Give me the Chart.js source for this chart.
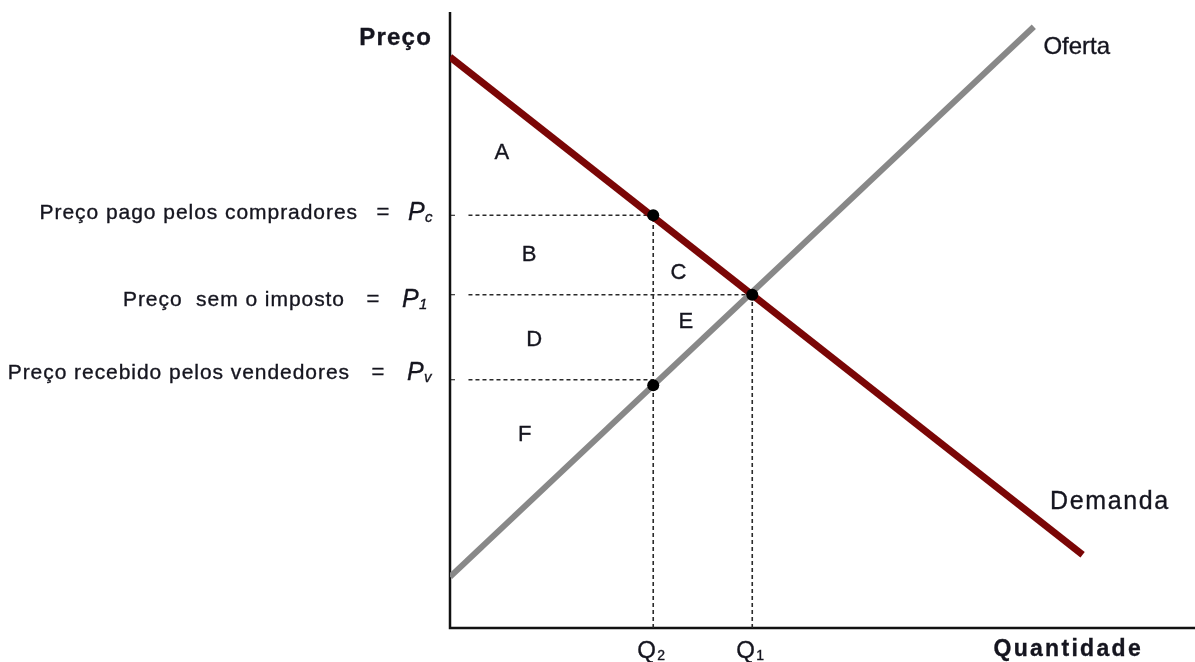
<!DOCTYPE html>
<html>
<head>
<meta charset="utf-8">
<script src="https://cdn.jsdelivr.net/npm/chart.js@4/dist/chart.umd.min.js"></script>
<style>
  html, body { margin: 0; padding: 0; background: #fff; }
  canvas { display: block; }
</style>
</head>
<body>
<canvas id="taxChart" width="1195" height="662"></canvas>
<script>
// values (both axes run 0..100)
const demandX = [0, 85.6];
const demandY = [92.7, 11.9];
const supplyX = [0, 79.0];
const supplyY = [8.3, 97.6];

const prices = [67.0, 54.1, 40.3];       // Pc, P1, Pv
const quantities = [27.5, 40.9];         // Q2, Q1
const priceToQuantity = [0, 1, 0];       // where each price guide stops
const guideStart = 2.5;

const dotX = [27.5, 40.9, 27.5];
const dotY = [67.0, 54.1, 39.4];

const priceLabels = ['Preço pago pelos compradores', 'Preço  sem o imposto', 'Preço recebido pelos vendedores'];
const priceSubs = ['c', '1', 'v'];
const quantitySubs = ['2', '1'];

const areaLetters = ['A', 'B', 'C', 'D', 'E', 'F'];
const areaX = [7.0, 10.7, 30.9, 11.4, 31.9, 10.1];
const areaY = [77.1, 60.6, 57.6, 46.8, 49.7, 31.3];

const FONT = '"Liberation Sans", Arial, sans-serif';
const TEXT = '#15151f';

function pts(xs, ys) {
  return xs.map((x, i) => ({ x: x, y: ys[i] }));
}

const guides = [];
prices.forEach((p, i) => {
  guides.push([{ x: guideStart, y: p }, { x: quantities[priceToQuantity[i]], y: p }]);
});
quantities.forEach((q, i) => {
  guides.push([{ x: q, y: 0 }, { x: q, y: prices[i === 0 ? 0 : 1] }]);
});

const datasets = guides.map(g => ({
  data: g,
  showLine: true,
  borderColor: '#2a2a2a',
  borderWidth: 1.6,
  borderDash: [4, 3],
  pointRadius: 0,
  order: 5
}));

datasets.push({
  label: 'Oferta',
  data: pts(supplyX, supplyY),
  showLine: true,
  borderColor: '#888888',
  borderWidth: 6,
  pointRadius: 0,
  order: 3
});
datasets.push({
  label: 'Demanda',
  data: pts(demandX, demandY),
  showLine: true,
  borderColor: '#7a0606',
  borderWidth: 7,
  pointRadius: 0,
  order: 2
});
datasets.push({
  data: pts(dotX, dotY),
  showLine: false,
  pointRadius: 6,
  pointBackgroundColor: '#000',
  pointBorderWidth: 0,
  order: 1
});

function drawText(ctx, str, x, y, font, align, spacing) {
  ctx.save();
  ctx.font = font;
  ctx.fillStyle = TEXT;
  ctx.strokeStyle = TEXT;
  ctx.lineWidth = 0.35;
  ctx.textAlign = align;
  ctx.textBaseline = 'middle';
  ctx.letterSpacing = (spacing || 0) + 'px';
  ctx.fillText(str, x, y);
  ctx.strokeText(str, x, y);
  ctx.restore();
}

const axesAndText = {
  id: 'axesAndText',
  beforeDatasetsDraw(chart) {
    const ctx = chart.ctx;
    const a = chart.chartArea;
    const ys = chart.scales.y;
    ctx.save();
    ctx.strokeStyle = '#111';
    ctx.lineWidth = 2.5;
    ctx.beginPath();
    ctx.moveTo(a.left, a.top);
    ctx.lineTo(a.left, a.bottom);
    ctx.lineTo(chart.width, a.bottom);
    ctx.stroke();
    // small tick stubs
    ctx.lineWidth = 1;
    prices.forEach(p => {
      const py = ys.getPixelForValue(p);
      ctx.beginPath();
      ctx.moveTo(a.left, py);
      ctx.lineTo(a.left + 5, py);
      ctx.stroke();
    });
    ctx.restore();
  },
  afterDraw(chart) {
    const ctx = chart.ctx;
    const a = chart.chartArea;
    const xs = chart.scales.x;
    const ys = chart.scales.y;

    drawText(ctx, 'Preço', a.left - 18, 38, 'bold 24px ' + FONT, 'right', 1.2);
    drawText(ctx, 'Quantidade', a.right - 46, 650, 'bold 23px ' + FONT, 'right', 2.3);

    const textEnd = [358, 345, 350];
    const eqX = [383, 373, 378];
    const pX = [408, 402, 407];
    const dy = [-2, 5, -7];
    prices.forEach((p, i) => {
      const py = ys.getPixelForValue(p) + dy[i];
      drawText(ctx, priceLabels[i], textEnd[i], py, '21px ' + FONT, 'right', 0.95);
      drawText(ctx, '=', eqX[i], py, '22px ' + FONT, 'center');
      drawText(ctx, 'P', pX[i], py, 'italic 25px ' + FONT, 'left');
      drawText(ctx, priceSubs[i], pX[i] + 17, py + 5, 'italic 15px ' + FONT, 'left');
    });

    quantities.forEach((q, i) => {
      const px = xs.getPixelForValue(q);
      drawText(ctx, 'Q', px - 16, 651, '24px ' + FONT, 'left', -1);
      drawText(ctx, quantitySubs[i], px + 4, 656, '14px ' + FONT, 'left');
    });

    areaLetters.forEach((l, i) => {
      drawText(ctx, l, xs.getPixelForValue(areaX[i]), ys.getPixelForValue(areaY[i]), '22px ' + FONT, 'center');
    });

    drawText(ctx, 'Oferta', xs.getPixelForValue(80.3), ys.getPixelForValue(94.2), '24px ' + FONT, 'left', 0);
    drawText(ctx, 'Demanda', xs.getPixelForValue(81.2), ys.getPixelForValue(20.5), '25px ' + FONT, 'left', 1.6);
  }
};

new Chart(document.getElementById('taxChart'), {
  type: 'scatter',
  data: { datasets: datasets },
  options: {
    responsive: false,
    animation: false,
    layout: { padding: { left: 450, top: 12, right: 0, bottom: 34 } },
    plugins: { legend: { display: false }, tooltip: { enabled: false } },
    elements: { line: { tension: 0 } },
    scales: {
      x: { type: 'linear', min: 0, max: 100, display: false },
      y: { type: 'linear', min: 0, max: 100, display: false }
    }
  },
  plugins: [axesAndText]
});
</script>
</body>
</html>
